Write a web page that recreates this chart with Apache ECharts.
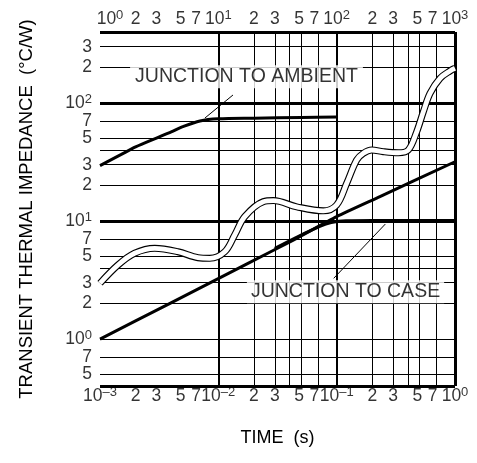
<!DOCTYPE html>
<html>
<head>
<meta charset="utf-8">
<script src="https://cdn.jsdelivr.net/npm/echarts@6.0.0/dist/echarts.min.js"></script>
<style>
html,body{margin:0;padding:0;background:#fff;}
#chart{width:477px;height:463px;}
</style>
</head>
<body>
<div id="chart"></div>
<script>
// ---------- data ----------
// bottom axis: time (s)
const bottomTicks = [0.001,0.002,0.003,0.005,0.007,0.01,0.02,0.03,0.05,0.07,0.1,0.2,0.3,0.5,0.7,1];
const bottomTickLabels = ['10^–3','2','3','5','7','10^–2','2','3','5','7','10^–1','2','3','5','7','10^0'];
// top axis: time (s) for junction-to-ambient curve
const topTicks = [1,2,3,5,7,10,20,30,50,70,100,200,300,500,700,1000];
const topTickLabels = ['10^0','2','3','5','7','10^1','2','3','5','7','10^2','2','3','5','7','10^3'];
// y axis: transient thermal impedance (°C/W)
const yTicks = [0.5,0.7,1,2,3,5,7,10,20,30,50,70,100,200,300];
const yTickLabels = ['5','7','10^0','2','3','5','7','10^1','2','3','5','7','10^2','2','3'];
// grid lines
const xGridValues = [0.002,0.003,0.004,0.005,0.007,0.01,0.02,0.03,0.04,0.05,0.07,0.1,0.2,0.3,0.4,0.5,0.7];
const yGridValues = [0.5,0.7,1,2,3,4,5,7,10,20,30,40,50,70,100,200,300];

// junction to ambient (top time axis)
const jaTime  = [1, 1.5, 2, 3, 4, 5, 7, 10, 20, 50, 100];
const jaValue = [29.5, 36.5, 42.5, 50.5, 57, 63, 70.5, 73.5, 74.5, 75.5, 76];

// wavy (double) curve (bottom time axis)
const wavyTime  = [0.001,0.00142,0.00196,0.0029,0.00456,0.00673,0.00845,0.01132,0.01374,0.01671,0.024,0.0292,0.046,0.0771,0.1,0.1216,0.1476,0.168,0.1977,0.2478,0.332,0.403,0.4745,0.54,0.615,0.747,0.907,1];
const wavyValue = [2.97,4.24,5.33,5.87,5.49,4.89,4.83,5.49,7.61,10.9,14.6,14.9,13.2,12.2,13.7,20.9,32.9,37.5,40.0,38.7,37.9,40.0,57.1,84.4,120.8,162,187,197];

// straight rising line
const riseTime  = [0.001,0.00376,0.0178,0.043,0.1,0.232,1];
const riseValue = [1.0,1.97,4.38,6.9,10.9,16.1,31.8];

// junction to case (flattening)
const jcTime  = [0.03,0.05,0.07,0.09,0.12,0.2,1];
const jcValue = [5.86,7.6,8.9,9.7,10.05,10.1,10.1];

// annotations
const jaLabel = 'JUNCTION TO AMBIENT';
const jcLabel = 'JUNCTION TO CASE';
const jaLabelAt = [17.3, 167];      // top axis time, value
const jcLabelAt = [0.1188, 2.52];   // bottom axis time, value
const jaArrow = [[13.3, 117], [7.7, 74.6]];
const jcArrow = [[0.0944, 3.27], [0.2577, 9.43]];

const xTitle = 'TIME  (s)';
const yTitle = 'TRANSIENT THERMAL IMPEDANCE  (°C/W)';

// ---------- chart ----------
const FONT = '"Liberation Sans", Arial, Helvetica, sans-serif';
const X_MIN = 0.001, X_MAX = 1, T_MIN = 1, T_MAX = 1000, Y_MIN = 0.4, Y_MAX = 400;

const zip = (a, b) => a.map((v, i) => [v, b[i]]);
const isDecade = v => Math.abs(Math.log10(v) - Math.round(Math.log10(v))) < 1e-9;

function fmt(s) {
  const p = s.split('^');
  return p.length > 1 ? '{b|' + p[0] + '}{s|' + p[1] + '}' : '{b|' + s + '}';
}
const rich = {
  b: { fontSize: 17.5, fontFamily: FONT, color: '#000' },
  s: { fontSize: 13, fontFamily: FONT, color: '#000', padding: [0, 0, 7, 0] }
};
function xShift(label) {
  if (label === '7') return -4;
  if (label === '5') return -2;
  return 0;
}

const hidden = { show: false };
const lineBase = {
  type: 'line', showSymbol: false, symbol: 'none', silent: true, animation: false,
  emphasis: { disabled: true }
};
const labelScatterBase = {
  type: 'scatter', symbol: 'circle', symbolSize: 1, silent: true, clip: false, animation: false,
  itemStyle: { color: 'rgba(0,0,0,0)' }, emphasis: { disabled: true }, z: 8
};
const tickLabelStyle = { show: true, position: 'inside', fontSize: 17.5, fontFamily: FONT, color: '#000', rich: rich };

const vGrid = xGridValues.map(v => ({ xAxis: v, lineStyle: { color: '#000', type: 'solid', width: isDecade(v) ? 2 : 1 } }));
const hGrid = yGridValues.map(v => ({ yAxis: v, lineStyle: { color: '#000', type: 'solid', width: (v === 10 || v === 100) ? 3 : 1 } }));

const option = {
  animation: false,
  backgroundColor: '#fff',
  grid: { left: 100, right: 22, top: 32, bottom: 77, show: false },
  xAxis: [
    { type: 'log', min: X_MIN, max: X_MAX, position: 'bottom',
      axisLine: hidden, axisTick: hidden, axisLabel: hidden, splitLine: hidden, minorTick: hidden,
      name: xTitle, nameLocation: 'middle', nameGap: 43,
      nameTextStyle: { fontSize: 18, fontFamily: FONT, color: '#000' } },
    { type: 'log', min: T_MIN, max: T_MAX, position: 'top',
      axisLine: hidden, axisTick: hidden, axisLabel: hidden, splitLine: hidden }
  ],
  yAxis: [
    { type: 'log', min: Y_MIN, max: Y_MAX,
      axisLine: hidden, axisTick: hidden, axisLabel: hidden, splitLine: hidden,
      name: yTitle, nameLocation: 'middle', nameGap: 64, nameRotate: 90,
      nameTextStyle: { fontSize: 18.5, fontFamily: FONT, color: '#000' } }
  ],
  series: [
    // grid lines
    Object.assign({}, lineBase, {
      xAxisIndex: 0, yAxisIndex: 0, z: 1, data: [],
      markLine: { silent: true, symbol: 'none', animation: false, label: { show: false },
        lineStyle: { color: '#000', type: 'solid' }, emphasis: { disabled: true },
        data: vGrid.concat(hGrid) }
    }),
    // straight rising line
    Object.assign({}, lineBase, {
      xAxisIndex: 0, yAxisIndex: 0, z: 3, data: zip(riseTime, riseValue), smooth: 0.2,
      lineStyle: { color: '#000', width: 3 }
    }),
    // junction to case
    Object.assign({}, lineBase, {
      xAxisIndex: 0, yAxisIndex: 0, z: 3, data: zip(jcTime, jcValue), smooth: 0.4,
      lineStyle: { color: '#000', width: 3 }
    }),
    // wavy double line: outline
    Object.assign({}, lineBase, {
      xAxisIndex: 0, yAxisIndex: 0, z: 4, data: zip(wavyTime, wavyValue), smooth: 0.35,
      lineStyle: { color: '#000', width: 7 }
    }),
    // wavy double line: white core
    Object.assign({}, lineBase, {
      xAxisIndex: 0, yAxisIndex: 0, z: 5, data: zip(wavyTime, wavyValue), smooth: 0.35,
      lineStyle: { color: '#fff', width: 4.8 }
    }),
    // junction to ambient (top axis)
    Object.assign({}, lineBase, {
      xAxisIndex: 1, yAxisIndex: 0, z: 3, data: zip(jaTime, jaValue), smooth: 0.3,
      lineStyle: { color: '#000', width: 3 },
      markLine: { silent: true, symbol: ['none', 'arrow'], symbolSize: [0, 8], animation: false,
        label: { show: false }, lineStyle: { color: '#000', type: 'solid', width: 1 },
        emphasis: { disabled: true },
        data: [[{ coord: jaArrow[0] }, { coord: jaArrow[1] }]] }
    }),
    // arrow for junction to case
    Object.assign({}, lineBase, {
      xAxisIndex: 0, yAxisIndex: 0, z: 6, data: [],
      markLine: { silent: true, symbol: ['none', 'arrow'], symbolSize: [0, 8], animation: false,
        label: { show: false }, lineStyle: { color: '#000', type: 'solid', width: 1 },
        emphasis: { disabled: true },
        data: [[{ coord: jcArrow[0] }, { coord: jcArrow[1] }]] }
    }),
    // plot frame
    Object.assign({}, lineBase, {
      xAxisIndex: 0, yAxisIndex: 0, z: 10, data: [],
      markLine: { silent: true, symbol: 'none', animation: false, label: { show: false },
        lineStyle: { color: '#000', type: 'solid', width: 3 }, emphasis: { disabled: true },
        data: [{ xAxis: X_MIN }, { xAxis: X_MAX }, { yAxis: Y_MIN }, { yAxis: Y_MAX }] }
    }),
    // curve name boxes
    Object.assign({}, labelScatterBase, {
      xAxisIndex: 1, yAxisIndex: 0,
      data: [{ value: jaLabelAt }],
      label: { show: true, position: 'inside', formatter: jaLabel, fontSize: 19.5, fontFamily: FONT,
        color: '#000', backgroundColor: '#fff', padding: [2, 5, 1, 5] }
    }),
    Object.assign({}, labelScatterBase, {
      xAxisIndex: 0, yAxisIndex: 0,
      data: [{ value: jcLabelAt }],
      label: { show: true, position: 'inside', formatter: jcLabel, fontSize: 19.5, fontFamily: FONT,
        color: '#000', backgroundColor: '#fff', padding: [2, 4, 1, 4] }
    }),
    // bottom tick labels
    Object.assign({}, labelScatterBase, {
      xAxisIndex: 0, yAxisIndex: 0,
      data: bottomTicks.map((v, i) => ({ value: [v, Y_MIN], label: { offset: [xShift(bottomTickLabels[i]), 10] } })),
      label: Object.assign({}, tickLabelStyle, { formatter: p => fmt(bottomTickLabels[p.dataIndex]) })
    }),
    // top tick labels
    Object.assign({}, labelScatterBase, {
      xAxisIndex: 1, yAxisIndex: 0,
      data: topTicks.map((v, i) => ({ value: [v, Y_MAX], label: { offset: [i === 0 ? 10 : xShift(topTickLabels[i]), -13] } })),
      label: Object.assign({}, tickLabelStyle, { formatter: p => fmt(topTickLabels[p.dataIndex]) })
    }),
    // y tick labels
    Object.assign({}, labelScatterBase, {
      xAxisIndex: 0, yAxisIndex: 0,
      data: yTicks.map(v => ({ value: [X_MIN, v] })),
      label: Object.assign({}, tickLabelStyle, { align: 'right', offset: [-8, 0],
        formatter: p => fmt(yTickLabels[p.dataIndex]) })
    })
  ]
};

const chart = echarts.init(document.getElementById('chart'), null, { renderer: 'canvas' });
chart.setOption(option);
</script>
</body>
</html>
